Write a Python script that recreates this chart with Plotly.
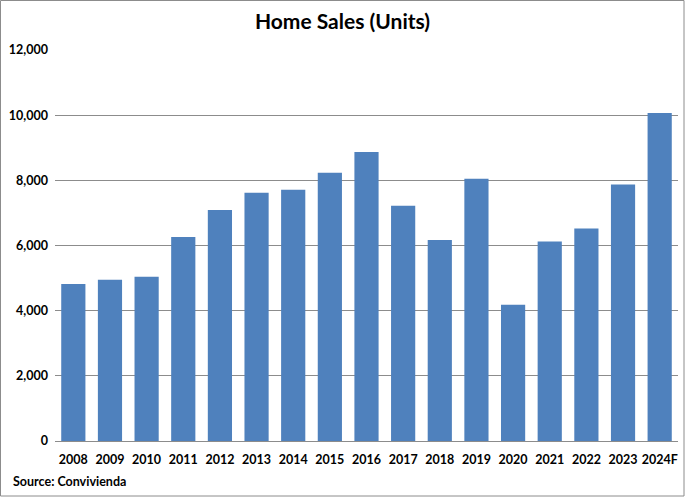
import plotly.graph_objects as go

years = ["2008", "2009", "2010", "2011", "2012", "2013", "2014", "2015", "2016",
         "2017", "2018", "2019", "2020", "2021", "2022", "2023", "2024F"]
sales = [4820, 4950, 5040, 6260, 7090, 7620, 7710, 8230, 8870,
         7220, 6170, 8050, 4180, 6120, 6520, 7870, 10070]
y_ticks = [0, 2000, 4000, 6000, 8000, 10000, 12000]
y_labels = ["0", "2,000", "4,000", "6,000", "8,000", "10,000", "12,000"]

W, H = 685, 497
L, R, T, B = 55, 7, 50, 56
pw, ph = W - L - R, H - T - B

font = "Lato, 'Open Sans', sans-serif"

fig = go.Figure(go.Bar(x=years, y=sales, marker_color="#4F81BD", marker_line_width=0))

fig.update_layout(
    width=W, height=H,
    margin=dict(l=L, r=R, t=T, b=B),
    paper_bgcolor="white", plot_bgcolor="white",
    bargap=0.34,
    showlegend=False,
    title=dict(text="<b>Home Sales (Units)</b>", x=0.5, xanchor="center",
               y=1 - 22 / H, yanchor="middle", yref="container",
               font=dict(family=font, size=21, color="black")),
    font=dict(family=font, color="black"),
)
fig.update_xaxes(showgrid=False, showline=False, ticks="", tickfont=dict(size=12.5, family=font),
                 tickprefix="<b>", ticksuffix="</b>", ticklabelstandoff=9)
fig.update_yaxes(range=[0, 12000], tickvals=y_ticks, ticktext=[f"<b>{t}</b>" for t in y_labels],
                 showgrid=True, gridcolor="#8c8c8c", gridwidth=1, zeroline=True,
                 zerolinecolor="#8c8c8c", zerolinewidth=1, showline=False, ticks="",
                 tickfont=dict(size=12.5, family=font), ticklabelstandoff=6)

fig.add_annotation(text="<b>Source: Convivienda</b>", xref="paper", yref="paper",
                   x=-(L - 11) / pw, y=-(481 - (H - B)) / ph, xanchor="left", yanchor="middle",
                   showarrow=False, font=dict(family=font, size=12.5, color="black"))

fig.add_shape(type="rect", xref="paper", yref="paper",
              x0=-(L - 0.5) / pw, x1=1 + (R - 1) / pw,
              y0=-(B - 1) / ph, y1=1 + (T - 0.5) / ph,
              line=dict(color="#8c8c8c", width=1), fillcolor="rgba(0,0,0,0)", layer="below")

fig.write_html("out.html", config={"displayModeBar": False},
               post_script="document.body.style.margin='0';document.body.style.overflow='hidden';")
